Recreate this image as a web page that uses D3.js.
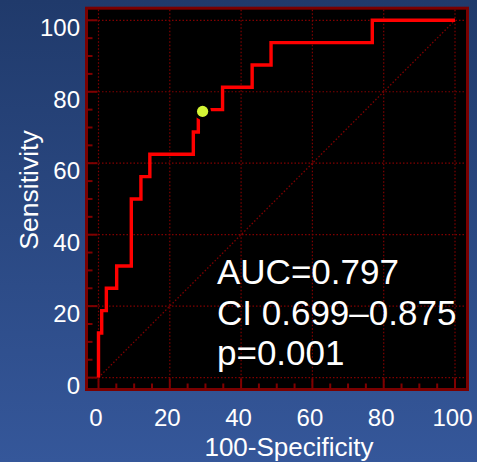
<!DOCTYPE html>
<html>
<head>
<meta charset="utf-8">
<script src="https://cdn.jsdelivr.net/npm/d3@7"></script>
<style>
html,body{margin:0;padding:0;background:#2b4a85;}
svg{display:block;}
text{font-family:"Liberation Sans",Arial,sans-serif;fill:#ffffff;}
</style>
</head>
<body>
<script>
// ROC curve vertices (100-Specificity, Sensitivity), drawn as step-after
const fpr = [0, 0, 0.9, 2.2, 5.1, 9.2, 11.9, 14.4, 26.6, 28.0, 34.8, 43.1, 48.4, 76.8, 100];
const tpr = [0, 12.5, 18.75, 25, 31.25, 50, 56.25, 62.5, 68.75, 75, 81.25, 87.5, 93.75, 100, 100];
// optimal criterion point
const optimal = [29.2, 74.5];
const tickValues = [0, 20, 40, 60, 80, 100];
const minorTicks = d3.range(0, 101, 5);
const annotation = ["AUC=0.797", "CI 0.699\u20130.875", "p=0.001"];
const xTitle = "100-Specificity";
const yTitle = "Sensitivity";

const W = 477, H = 462;
const svg = d3.select("body").append("svg").attr("width", W).attr("height", H);

const defs = svg.append("defs");
const grad = defs.append("linearGradient").attr("id", "bg").attr("x1", 0).attr("y1", 0).attr("x2", 0).attr("y2", 1);
grad.append("stop").attr("offset", "0%").attr("stop-color", "#203a6b");
grad.append("stop").attr("offset", "100%").attr("stop-color", "#35579a");
svg.append("rect").attr("width", W).attr("height", H).attr("fill", "url(#bg)");

const x = d3.scaleLinear().domain([0, 100]).range([98.5, 455]);
const y = d3.scaleLinear().domain([0, 100]).range([377.6, 20.3]);

const frame = {x0: 86.5, x1: 467.5, y0: 8.2, y1: 389.5};
const dark = "#800000";

svg.append("rect")
  .attr("x", frame.x0).attr("y", frame.y0)
  .attr("width", frame.x1 - frame.x0).attr("height", frame.y1 - frame.y0)
  .attr("fill", "#000000").attr("stroke", "#7a0000").attr("stroke-width", 3);

// grid
const grid = svg.append("g");
grid.selectAll(".vg").data(tickValues).join("line")
  .attr("x1", d => x(d)).attr("x2", d => x(d))
  .attr("y1", frame.y0 + 1.5).attr("y2", frame.y1 - 1.5)
  .attr("stroke", dark).attr("stroke-width", 1.2).attr("stroke-dasharray", "1.5,2");
grid.selectAll(".hg").data(tickValues).join("line")
  .attr("y1", d => y(d)).attr("y2", d => y(d))
  .attr("x1", frame.x0 + 1.5).attr("x2", frame.x1 - 1.5)
  .attr("stroke", dark).attr("stroke-width", 1.2).attr("stroke-dasharray", "1.5,2");
// diagonal
svg.append("line")
  .attr("x1", x(0)).attr("y1", y(0)).attr("x2", x(100)).attr("y2", y(100))
  .attr("stroke", dark).attr("stroke-width", 1.3).attr("stroke-dasharray", "1.5,2");

// ticks
svg.append("g").selectAll("line").data(minorTicks).join("line")
  .attr("x1", frame.x0).attr("x2", d => frame.x0 + (d % 20 === 0 ? 11 : 6))
  .attr("y1", d => y(d)).attr("y2", d => y(d))
  .attr("stroke", dark).attr("stroke-width", 2);
svg.append("g").selectAll("line").data(minorTicks).join("line")
  .attr("y1", frame.y1).attr("y2", d => frame.y1 - (d % 20 === 0 ? 11 : 6))
  .attr("x1", d => x(d)).attr("x2", d => x(d))
  .attr("stroke", dark).attr("stroke-width", 2);

// ROC curve
const pts = fpr.map((f, i) => [f, tpr[i]]);
const line = d3.line().x(d => x(d[0])).y(d => y(d[1])).curve(d3.curveStepAfter);
svg.append("path").datum(pts).attr("d", line)
  .attr("fill", "none").attr("stroke", "#ff0000").attr("stroke-width", 3.4)
  .attr("stroke-linejoin", "miter");

// optimal point
svg.append("circle").attr("cx", x(optimal[0])).attr("cy", y(optimal[1])).attr("r", 8.5).attr("fill", "#000000");
svg.append("circle").attr("cx", x(optimal[0])).attr("cy", y(optimal[1])).attr("r", 5.6).attr("fill", "#d4f535");

// tick labels
svg.append("g").selectAll("text").data(tickValues).join("text")
  .attr("x", 80).attr("y", d => y(d) + 16)
  .attr("text-anchor", "end").attr("font-size", 24).text(d => d);
svg.append("g").selectAll("text").data(tickValues).join("text")
  .attr("x", d => x(d) - 2.5).attr("y", 425.7)
  .attr("text-anchor", "middle").attr("font-size", 24).text(d => d);

// axis titles
svg.append("text").attr("x", 289).attr("y", 455.5)
  .attr("text-anchor", "middle").attr("font-size", 26).text(xTitle);
svg.append("text").attr("transform", "translate(38,190) rotate(-90)")
  .attr("text-anchor", "middle").attr("font-size", 26.5).text(yTitle);

// annotation
svg.append("g").selectAll("text").data(annotation).join("text")
  .attr("x", 217).attr("y", (d, i) => 284 + i * 40.5)
  .attr("font-size", 35).text(d => d);
</script>
</body>
</html>
